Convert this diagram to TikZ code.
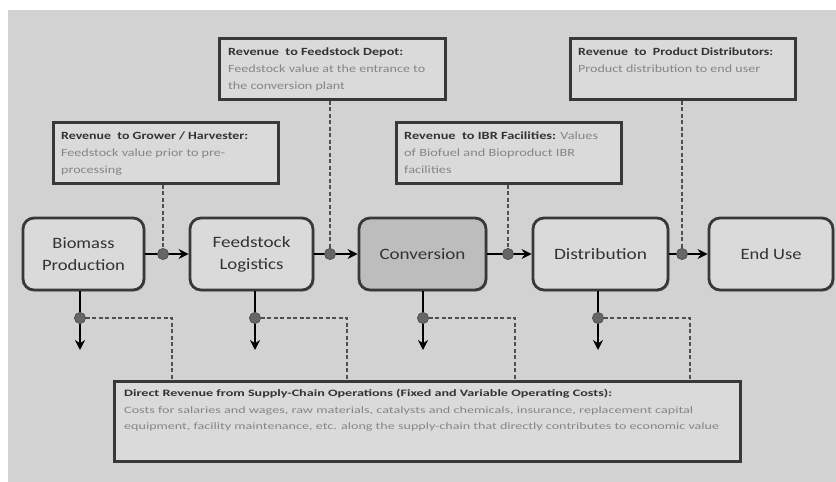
\documentclass[tikz,border=0pt]{standalone}
\usepackage{fontspec}
\usepackage{graphicx}
\setmainfont{Carlito}
\usetikzlibrary{arrows.meta,shadows}
\newsavebox\fitb
\gdef\fitf{1}
\newcommand\fitto[2]{\sbox\fitb{#2}\pgfmathparse{#1/\the\wd\fitb}\global\let\fitf\pgfmathresult\scalebox{\fitf}[1]{\usebox\fitb}}
\newcommand\samew[1]{\scalebox{\fitf}[1]{#1}}
\definecolor{bg}{HTML}{D2D2D2}
\definecolor{boxfill}{HTML}{DADADA}
\definecolor{convfill}{HTML}{BDBDBD}
\definecolor{boxline}{HTML}{383838}
\definecolor{textdark}{HTML}{333333}
\definecolor{bodygray}{HTML}{858585}
\definecolor{dotfill}{HTML}{666666}
\definecolor{dashcol}{HTML}{505050}
\begin{document}
\begin{tikzpicture}[x=1pt,y=-1pt,
  stage/.style={draw=boxline, line width=2.8pt, rounded corners=11pt, fill=boxfill,
    font=\fontsize{15.8}{22}\selectfont, text=textdark, align=center,
    minimum height=72pt, inner sep=0pt,
    drop shadow={shadow xshift=1.5pt, shadow yshift=-1.5pt, opacity=0.45}},
  infobox/.style={draw=boxline, line width=2.8pt, fill=boxfill, anchor=north west, inner sep=0pt,
    drop shadow={shadow xshift=1.5pt, shadow yshift=-1.5pt, opacity=0.45}},
  infotext/.style={anchor=north west, inner sep=0pt, align=left, text=textdark,
    font=\fontsize{11}{17}\selectfont, xshift=9pt, yshift=-10.5pt},
  flow/.style={line width=2pt, draw=black, -{Stealth[length=10pt,width=10pt]}},
  dot/.style={circle, fill=dotfill, draw=dashcol, line width=0.6pt, minimum size=11pt, inner sep=0pt},
  dashline/.style={draw=dashcol, line width=1.3pt, dash pattern=on 4pt off 2.5pt}
]
\useasboundingbox (0,0) rectangle (836,482);
\fill[white] (0,0) rectangle (836,482);
\fill[bg] (8,10) rectangle (836,482);

% stages
\node[stage, minimum width=121pt] (bp) at (83.5,254) {\fitto{62}{Biomass}\\\fitto{83}{Production}};
\node[stage, minimum width=123pt] (fl) at (251.5,254) {\fitto{78}{Feedstock}\\\fitto{64}{Logistics}};
\node[stage, minimum width=127pt, fill=convfill] (cv) at (422.5,254) {\fitto{86}{Conversion}};
\node[stage, minimum width=135pt] (ds) at (600.5,254) {\fitto{93}{Distribution}};
\node[stage, minimum width=124pt] (eu) at (771,254) {\fitto{61}{End Use}};

% top info boxes
\node[infobox, minimum width=225pt, minimum height=61pt] (g) at (52,121) {};
\node[infotext] (gt) at (g.north west) {\fitto{187}{\textbf{Revenue \ to Grower / Harvester:}}\\\fitto{164}{\textcolor{bodygray}{Feedstock value prior to pre-}}\\\samew{\textcolor{bodygray}{processing}}};
\node[infobox, minimum width=226pt, minimum height=61pt] (fd) at (218,37) {};
\node[infotext, xshift=1pt] (fdt) at (fd.north west) {\fitto{175}{\textbf{Revenue \ to Feedstock Depot:}}\\\fitto{197}{\textcolor{bodygray}{Feedstock value at the entrance to}}\\\samew{\textcolor{bodygray}{the conversion plant}}};
\node[infobox, minimum width=225pt, minimum height=61pt] (ibr) at (395,121) {};
\node[infotext] (ibrt) at (ibr.north west) {\fitto{194}{\textbf{Revenue \ to IBR Facilities:} \textcolor{bodygray}{Values}}\\\fitto{171}{\textcolor{bodygray}{of Biofuel and Bioproduct IBR}}\\\samew{\textcolor{bodygray}{facilities}}};
\node[infobox, minimum width=225pt, minimum height=61pt] (pd) at (569,37) {};
\node[infotext] (pdt) at (pd.north west) {\fitto{195}{\textbf{Revenue \ to \ Product Distributors:}}\\\fitto{182}{\textcolor{bodygray}{Product distribution to end user}}};

% bottom info box
\node[infobox, minimum width=626pt, minimum height=80pt] (bot) at (113,380) {};
\node[infotext, xshift=2pt, yshift=1pt, font=\fontsize{9.8}{16.5}\selectfont] (bott) at (bot.north west) {\fitto{488}{\textbf{Direct Revenue from Supply-Chain Operations (Fixed and Variable Operating Costs):}}\\\fitto{569}{\textcolor{bodygray}{Costs for salaries and wages, raw materials, catalysts and chemicals, insurance, replacement capital}}\\\fitto{595}{\textcolor{bodygray}{equipment, facility maintenance, etc. along the supply-chain that directly contributes to economic value}}};

% horizontal flow dots
\node[dot] (d1) at (163,254) {};
\node[dot] (d2) at (330,254) {};
\node[dot] (d3) at (508,254) {};
\node[dot] (d4) at (682,254) {};

% dashed links from top boxes
\draw[dashline] (g.south -| d1) -- (d1);
\draw[dashline] (fd.south -| d2) -- (d2);
\draw[dashline] (ibr.south -| d3) -- (d3);
\draw[dashline] (pd.south -| d4) -- (d4);

% horizontal flows
\draw[flow] (bp.east) -- (fl.west);
\draw[flow] (fl.east) -- (cv.west);
\draw[flow] (cv.east) -- (ds.west);
\draw[flow] (ds.east) -- (eu.west);
\node[dot] at (d1) {};
\node[dot] at (d2) {};
\node[dot] at (d3) {};
\node[dot] at (d4) {};

% downward flows
\coordinate (e1) at (80,350);
\coordinate (e2) at (255,350);
\coordinate (e3) at (423,350);
\coordinate (e4) at (598,350);
\draw[flow] (bp.south -| e1) -- (e1);
\draw[flow] (fl.south -| e2) -- (e2);
\draw[flow] (cv.south -| e3) -- (e3);
\draw[flow] (ds.south -| e4) -- (e4);

\node[dot] (b1) at (80,318) {};
\node[dot] (b2) at (255,318) {};
\node[dot] (b3) at (423,318) {};
\node[dot] (b4) at (598,318) {};

\coordinate (k1) at (172,318);
\coordinate (k2) at (347,318);
\coordinate (k3) at (515,318);
\coordinate (k4) at (690,318);
\draw[dashline] (b1) -- (k1) -- (k1 |- bot.north);
\draw[dashline] (b2) -- (k2) -- (k2 |- bot.north);
\draw[dashline] (b3) -- (k3) -- (k3 |- bot.north);
\draw[dashline] (b4) -- (k4) -- (k4 |- bot.north);
\node[dot] at (b1) {};
\node[dot] at (b2) {};
\node[dot] at (b3) {};
\node[dot] at (b4) {};
\end{tikzpicture}
\end{document}
